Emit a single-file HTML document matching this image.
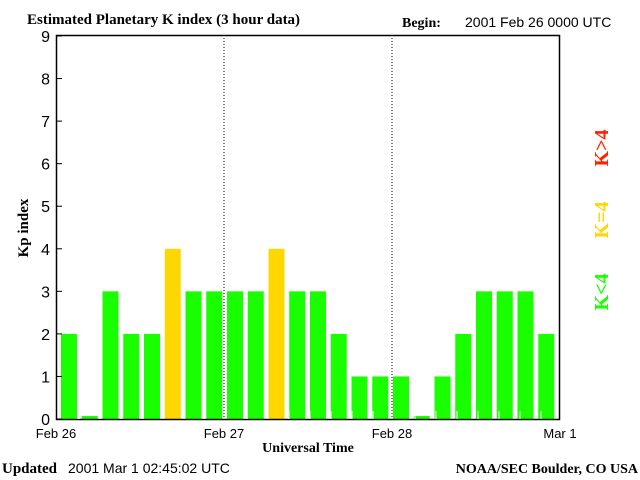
<!DOCTYPE html>
<html><head><meta charset="utf-8"><style>
body{margin:0;background:#fff}
svg{display:block}
text{font-family:"Liberation Sans",sans-serif}
.serif{font-family:"Liberation Serif",serif;font-weight:bold}
</style></head><body>
<svg id="chart" width="640" height="480" viewBox="0 0 640 480">
<text x="27" y="24" class="serif" font-size="15">Estimated Planetary K index (3 hour data)</text>
<text x="402" y="27" class="serif" font-size="14">Begin:</text>
<text x="465" y="27" font-size="14">2001 Feb 26 0000 UTC</text>
<g id="bars"></g>
<g id="axes"></g>
<text transform="translate(28,228) rotate(-90)" text-anchor="middle" class="serif" font-size="15">Kp index</text>
<text x="308" y="452" text-anchor="middle" class="serif" font-size="14">Universal Time</text>
<text x="2" y="473" class="serif" font-size="15">Updated</text>
<text x="68" y="473" font-size="14">2001 Mar  1 02:45:02 UTC</text>
<text x="638" y="473" text-anchor="end" class="serif" font-size="14">NOAA/SEC Boulder, CO USA</text>
<text transform="translate(608,148) rotate(-90)" text-anchor="middle" class="serif" font-size="20" fill="#ff2000">K&gt;4</text>
<text transform="translate(608,220) rotate(-90)" text-anchor="middle" class="serif" font-size="20" fill="#ffd700">K=4</text>
<text transform="translate(608,292) rotate(-90)" text-anchor="middle" class="serif" font-size="20" fill="#1aff00">K&lt;4</text>
</svg>
<script>
const kpValues=[2,0,3,2,2,4,3,3,3,3,4,3,3,2,1,1,1,0,1,2,3,3,3,2];
const yTicks=[0,1,2,3,4,5,6,7,8,9];
const dayLabels=["Feb 26","Feb 27","Feb 28","Mar 1"];
const X0=56,X1=560,Y0=419,Y1=35,YMAX=9;
const slot=(X1-X0)/kpValues.length;
const barSlot=20.75;
const xs=i=>X0+i*slot;
const xb=i=>X0+i*barSlot;
const ys=v=>Y0-v*(Y0-Y1-1)/YMAX;
const NS="http://www.w3.org/2000/svg";
function mk(t,a,p){const e=document.createElementNS(NS,t);for(const k in a)e.setAttribute(k,a[k]);p.appendChild(e);return e;}
const bars=document.getElementById('bars'),axes=document.getElementById('axes');
kpValues.forEach((v,i)=>{
 const top=v===0?Y0-3:ys(v);
 const col=v>4?'#ff2000':(v===4?'#ffd700':'#1aff00');
 const r=mk('rect',{x:xb(i)+5,y:top,width:16,height:Y0-top,fill:col},bars);
 
 
});
const f=mk('rect',{x:X0+0.5,y:Y1+0.5,width:X1-X0-1,height:Y0-Y1,fill:'none',stroke:'#000','stroke-width':1.5},axes);


yTicks.forEach(t=>{
 const y=ys(t);
 mk('line',{x1:X0,x2:X0+6,y1:y,y2:y,stroke:'#000'},axes);
 const tx=mk('text',{x:X0-6,y:y+6,'text-anchor':'end','font-size':16},axes);
 tx.textContent=t;
 
 
});
for(let i=1;i<kpValues.length;i++){
 if(i%8===0)continue;
 mk('line',{x1:xs(i)+2,x2:xs(i)+2,y1:Y0-8,y2:Y0,stroke:'#fff'},axes);
}
dayLabels.forEach((d,j)=>{
 const x=X0+j*8*slot;
 if(j>0&&j<3){const l=mk('line',{x1:x,x2:x,y1:Y1,y2:Y0,stroke:'#000','stroke-dasharray':'1,2'},axes);
  
  }
 const tx=mk('text',{x:x,y:Y0+19,'text-anchor':'middle','font-size':13},axes);
 tx.textContent=d;
 
 
});
</script>
</body></html>
